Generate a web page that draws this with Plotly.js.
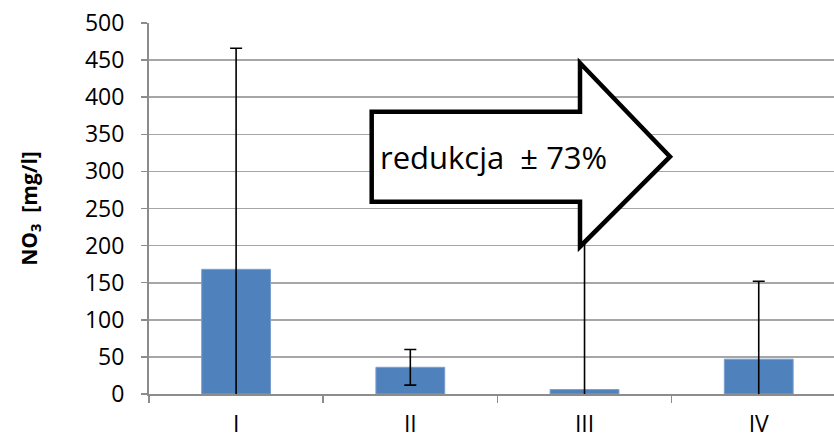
<!DOCTYPE html>
<html>
<head>
<meta charset="utf-8">
<script src="https://cdn.plot.ly/plotly-3.0.1.min.js"></script>
<style>html,body{margin:0;padding:0;background:#fff;}#chart{width:834px;height:436px;}</style>
</head>
<body>
<div id="chart"></div>
<script>
// Data
const categories = ['I', 'II', 'III', 'IV'];
const no3Values = [168, 36, 6, 47];
const no3Errors = [298, 24, 254, 105];
const yTickValues = [0, 50, 100, 150, 200, 250, 300, 350, 400, 450, 500];
const arrowLabel = 'redukcja  ± 73%';

const FONT = '"Open Sans", "DejaVu Sans", sans-serif';

const trace = {
  type: 'bar',
  x: categories,
  y: no3Values,
  width: 0.395,
  marker: {color: '#4f81bd', line: {color: '#7a9fd0', width: 1}},
  error_y: {type: 'data', array: no3Errors, symmetric: true, visible: true,
            color: '#000000', thickness: 1.6, width: 6},
  hoverinfo: 'skip'
};

// Arrow outline in paper coordinates
const arrowPts = [[0.3251,0.7609],[0.6292,0.7609],[0.6292,0.8922],[0.7606,0.6396],
                  [0.6292,0.3970],[0.6292,0.5183],[0.3251,0.5183]];
const arrowPath = 'M ' + arrowPts.map(p => p[0] + ',' + p[1]).join(' L ') + ' Z';

const layout = {
  width: 834, height: 436,
  margin: {l: 149, r: 0, t: 23, b: 42, pad: 0},
  paper_bgcolor: '#ffffff', plot_bgcolor: '#ffffff',
  showlegend: false,
  font: {family: FONT, size: 23, color: '#000000'},
  xaxis: {
    type: 'category',
    range: [-0.5, 3.432],
    showgrid: false,
    showline: true, linecolor: '#8c8c8c', linewidth: 2,
    ticks: 'outside', tickson: 'boundaries', ticklen: 7, tickcolor: '#8c8c8c', tickwidth: 1.5,
    tickfont: {family: FONT, size: 23, color: '#000'},
    ticklabelstandoff: 8,
    fixedrange: true
  },
  yaxis: {
    range: [0, 500],
    tickvals: yTickValues,
    ticktext: yTickValues.map(String),
    showgrid: true, gridcolor: '#a6a6a6', gridwidth: 1.6,
    zeroline: false,
    showline: true, linecolor: '#8c8c8c', linewidth: 2,
    ticks: 'outside', ticklen: 6, tickcolor: '#8c8c8c', tickwidth: 1.5,
    tickfont: {family: FONT, size: 23, color: '#000'},
    ticklabelstandoff: 12,
    title: {text: '<b>NO<sub>3</sub>  [mg/l]</b>', font: {family: FONT, size: 21, color: '#000'}, standoff: 42},
    automargin: false,
    fixedrange: true
  },
  shapes: [{
    type: 'path', xref: 'paper', yref: 'paper', path: arrowPath,
    fillcolor: '#ffffff', line: {color: '#000000', width: 4.5}, layer: 'above'
  }],
  annotations: [{
    xref: 'paper', yref: 'paper', x: 0.5036, y: 0.6396,
    xanchor: 'center', yanchor: 'middle', showarrow: false,
    text: arrowLabel, font: {family: FONT, size: 31, color: '#000'}
  }]
};

Plotly.newPlot('chart', [trace], layout, {staticPlot: true, displayModeBar: false});
</script>
</body>
</html>
